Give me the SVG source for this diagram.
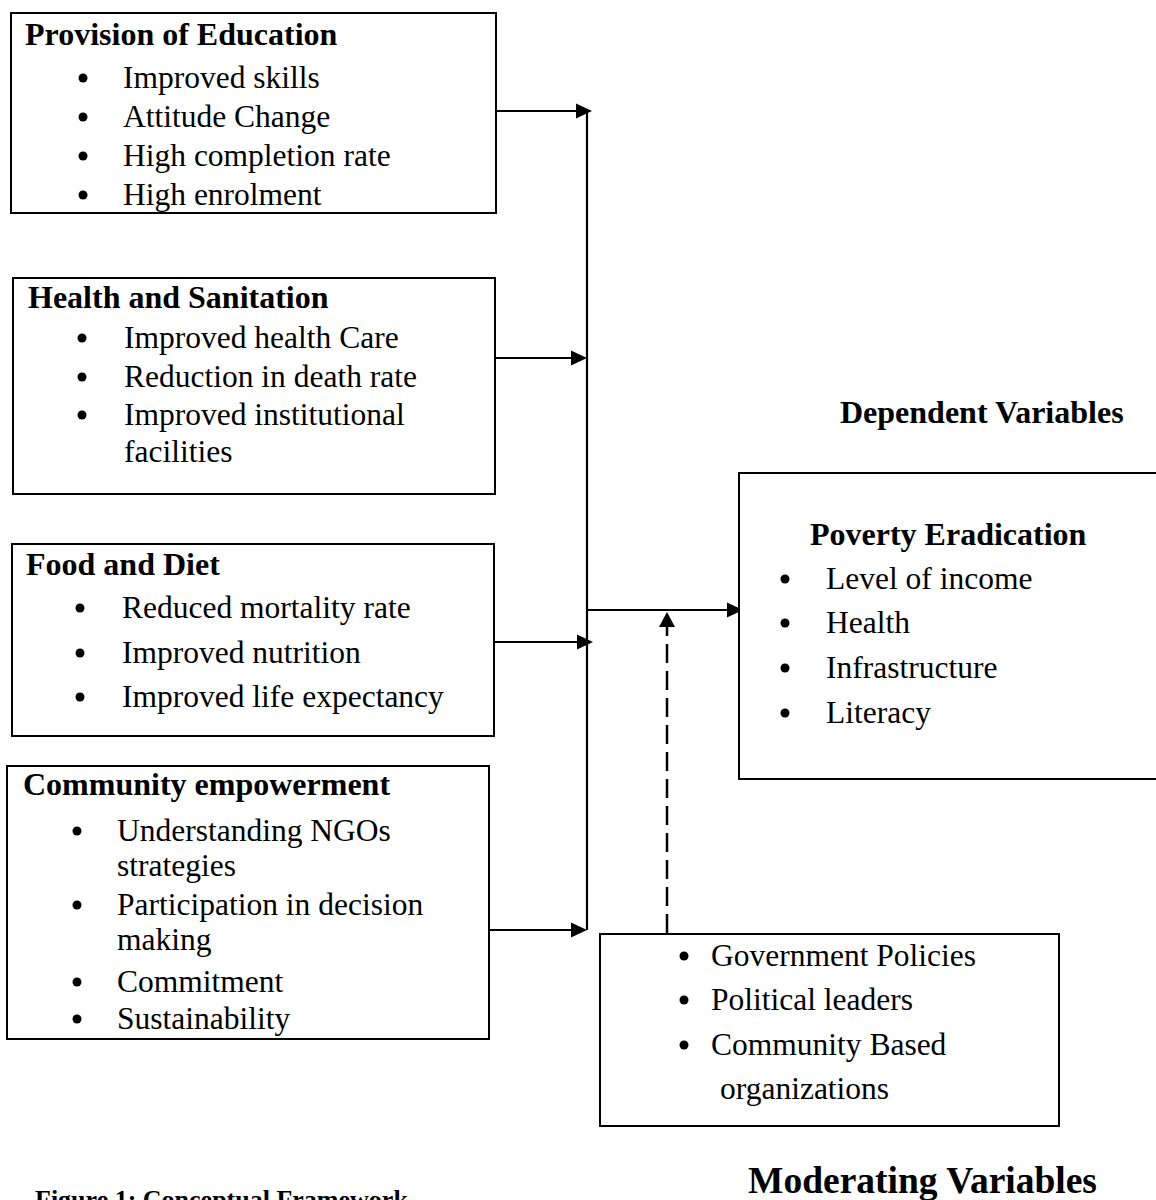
<svg xmlns="http://www.w3.org/2000/svg" width="1156" height="1200" viewBox="0 0 1156 1200">
<defs>
<style>
text{font-family:"Liberation Serif","Times New Roman",serif;fill:#000}
.t{font-size:32px;font-weight:bold}
.i{font-size:31.5px}
.box{fill:#fff;stroke:#000;stroke-width:2}
.ln{stroke:#000;stroke-width:2.2;fill:none}
.dash{stroke:#000;stroke-width:2.5;fill:none;stroke-dasharray:19 8}
.b{fill:#000}
.ah{fill:#000}
</style>
</defs>
<rect width="1156" height="1200" fill="#fff"/>

<g id="connectors">
<line class="ln" x1="587" y1="111" x2="587" y2="930"/>
<line class="ln" x1="495" y1="111" x2="580" y2="111"/>
<path class="ah" d="M592,111 L576,103.5 L576,118.5 Z"/>
<line class="ln" x1="489" y1="358" x2="575" y2="358"/>
<path class="ah" d="M587,358 L571,350.5 L571,365.5 Z"/>
<line class="ln" x1="495" y1="642" x2="580" y2="642"/>
<path class="ah" d="M593,642 L577,634.5 L577,649.5 Z"/>
<line class="ln" x1="489" y1="930" x2="575" y2="930"/>
<path class="ah" d="M587,930 L571,922.5 L571,937.5 Z"/>
<line class="ln" x1="587" y1="610" x2="730" y2="610"/>
<path class="ah" d="M743,610 L727,602.5 L727,617.5 Z"/>
<line class="dash" x1="667" y1="933" x2="667" y2="627"/>
<path class="ah" d="M667,612 L675,627 L659,627 Z"/>
</g>

<g id="education">
<rect class="box" x="11" y="13" width="485" height="200"/>
<text class="t" x="25" y="45">Provision of Education</text>
<circle class="b" cx="83" cy="78" r="4.5"/><text class="i" x="123" y="88">Improved skills</text>
<circle class="b" cx="83" cy="117" r="4.5"/><text class="i" x="123" y="127">Attitude Change</text>
<circle class="b" cx="83" cy="156" r="4.5"/><text class="i" x="123" y="166">High completion rate</text>
<circle class="b" cx="83" cy="195" r="4.5"/><text class="i" x="123" y="205">High enrolment</text>
</g>

<g id="health">
<rect class="box" x="13" y="278" width="482" height="216"/>
<text class="t" x="28" y="308">Health and Sanitation</text>
<circle class="b" cx="82" cy="338" r="4.5"/><text class="i" x="124" y="348">Improved health Care</text>
<circle class="b" cx="82" cy="377" r="4.5"/><text class="i" x="124" y="387">Reduction in death rate</text>
<circle class="b" cx="82" cy="415" r="4.5"/><text class="i" x="124" y="425">Improved institutional</text>
<text class="i" x="124" y="462">facilities</text>
</g>

<g id="food">
<rect class="box" x="12" y="544" width="482" height="192"/>
<text class="t" x="26" y="575">Food and Diet</text>
<circle class="b" cx="80" cy="608" r="4.5"/><text class="i" x="122" y="618">Reduced mortality rate</text>
<circle class="b" cx="80" cy="653" r="4.5"/><text class="i" x="122" y="663">Improved nutrition</text>
<circle class="b" cx="80" cy="697" r="4.5"/><text class="i" x="122" y="707">Improved life expectancy</text>
</g>

<g id="community">
<rect class="box" x="7" y="766" width="482" height="273"/>
<text class="t" x="23" y="795">Community empowerment</text>
<circle class="b" cx="77" cy="831" r="4.5"/><text class="i" x="117" y="841">Understanding NGOs</text>
<text class="i" x="117" y="876">strategies</text>
<circle class="b" cx="77" cy="905" r="4.5"/><text class="i" x="117" y="915">Participation in decision</text>
<text class="i" x="117" y="950">making</text>
<circle class="b" cx="77" cy="982" r="4.5"/><text class="i" x="117" y="992">Commitment</text>
<circle class="b" cx="77" cy="1019" r="4.5"/><text class="i" x="117" y="1029">Sustainability</text>
</g>

<g id="poverty">
<rect class="box" x="739" y="473" width="430" height="306"/>
<text class="t" x="810" y="545">Poverty Eradication</text>
<circle class="b" cx="785" cy="579" r="4.5"/><text class="i" x="826" y="589">Level of income</text>
<circle class="b" cx="785" cy="623" r="4.5"/><text class="i" x="826" y="633">Health</text>
<circle class="b" cx="785" cy="668" r="4.5"/><text class="i" x="826" y="678">Infrastructure</text>
<circle class="b" cx="785" cy="713" r="4.5"/><text class="i" x="826" y="723">Literacy</text>
</g>

<g id="moderating">
<rect class="box" x="600" y="934" width="459" height="192"/>
<circle class="b" cx="684" cy="956" r="4.5"/><text class="i" x="711" y="966">Government Policies</text>
<circle class="b" cx="684" cy="1000" r="4.5"/><text class="i" x="711" y="1010">Political leaders</text>
<circle class="b" cx="684" cy="1045" r="4.5"/><text class="i" x="711" y="1055">Community Based</text>
<text class="i" x="720" y="1099">organizations</text>
</g>

<g id="labels">
<text class="t" x="840" y="423">Dependent Variables</text>
<text class="t" x="748" y="1193" style="font-size:37.5px">Moderating Variables</text>
<text class="t" x="35" y="1208" style="font-size:26px">Figure 1: Conceptual Framework</text>
</g>
</svg>
